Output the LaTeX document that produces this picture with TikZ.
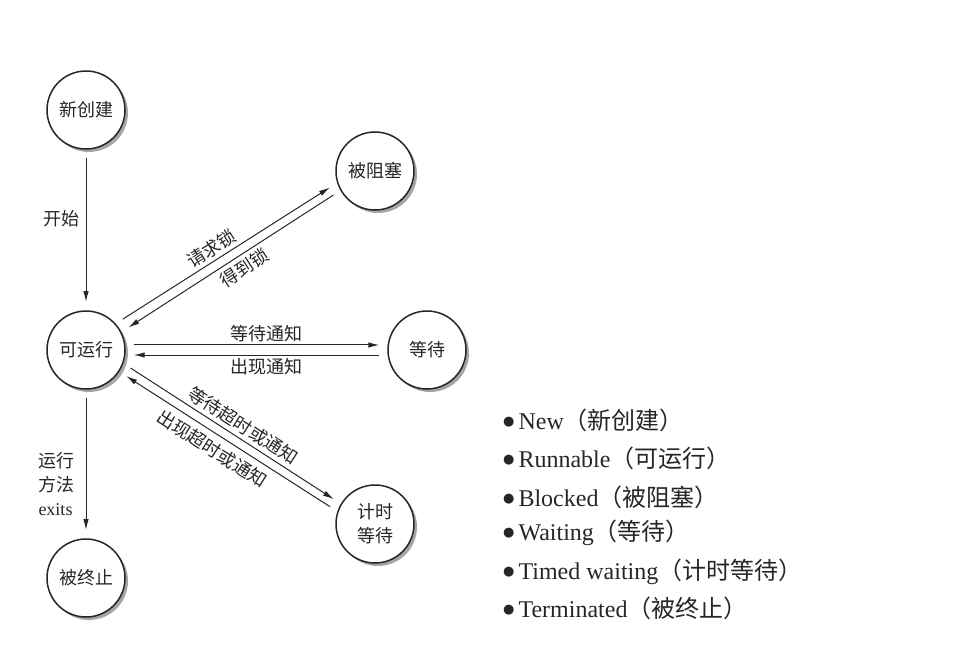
\documentclass[tikz,border=0pt]{standalone}
\usepackage{fontspec}
\setmainfont{Liberation Serif}
\newfontfamily\cjk{Noto Sans CJK SC}
\newfontfamily\symfont{DejaVu Sans}
\usetikzlibrary{arrows.meta,shadows}
\newcommand{\zhtxt}[1]{{\cjk #1}}
\newcommand{\lgdot}{\raisebox{4pt}{\symfont\fontsize{13}{13}\selectfont ●}\hspace{4pt}}

\begin{document}
\begin{tikzpicture}[x=1pt, y=-1pt,
    state/.style={circle, draw=black!85, line width=1.5pt, fill=white, minimum size=78pt, inner sep=0pt, outer sep=9pt,
        font=\fontsize{18}{24}\selectfont\cjk, text=black!85, align=center,
        drop shadow={shadow xshift=3pt, shadow yshift=-3pt, fill=black!70, opacity=0.5}},
    trans/.style={line width=1pt, draw=black!85, -{Latex[length=11pt,width=5.5pt]}},
    lbl/.style={font=\fontsize{18}{24}\selectfont\cjk, text=black!85, inner sep=3pt},
    legend/.style={anchor=west, font=\fontsize{24}{28}\selectfont, text=black!85, inner sep=0pt}]
    %%%%% START %%%%%
    
    \useasboundingbox (0, 0) rectangle (963, 656);
    
    % states
    \node[state] (new) at (86, 110) {新创建};
    \node[state] (run) at (86, 350) {可运行};
    \node[state] (term) at (86, 578) {被终止};
    \node[state] (blk) at (375, 171) {被阻塞};
    \node[state] (wait) at (427, 350) {等待};
    \node[state] (tim) at (375, 524) {计时\\等待};
    
    % transitions
    \draw[trans] (new) -- node[lbl, left, pos=0.42, inner sep=6pt] (lstart) {开始} (run);
    
    \draw[trans] (run.40) -- node[lbl, above, sloped, pos=0.46] (lreq) {请求锁} (blk.200);
    \draw[trans] (blk.210) -- node[lbl, below, sloped, pos=0.47, inner sep=4pt] (lget) {得到锁} (run.28);
    
    \draw[trans] (run.6) -- node[lbl, above, pos=0.54] (lwait) {等待通知} (wait.174);
    \draw[trans] (wait.186) -- node[lbl, below, pos=0.46] (lnotify) {出现通知} (run.-6);
    
    \draw[trans] (run.-22) -- node[lbl, above, sloped, pos=0.52, inner sep=4pt] (ltwait) {等待超时或通知} (tim.149);
    \draw[trans] (tim.159) -- node[lbl, below, sloped, pos=0.54, inner sep=6pt] (ltnotify) {出现超时或通知} (run.-33);
    
    \draw[trans] (run) -- node[lbl, left, pos=0.65, align=left, inner sep=11pt] (lexit) {运行\\方法\\{\rmfamily exits}} (term);
    
    % legend
    \node[legend] (lgnew) at (503, 420) {\lgdot New\zhtxt{（新创建）}};
    \node[legend] (lgrun) at (503, 458) {\lgdot Runnable\zhtxt{（可运行）}};
    \node[legend] (lgblk) at (503, 497) {\lgdot Blocked\zhtxt{（被阻塞）}};
    \node[legend] (lgwait) at (503, 533) {\lgdot Waiting\zhtxt{（等待）}};
    \node[legend] (lgtim) at (503, 572) {\lgdot Timed waiting\zhtxt{（计时等待）}};
    \node[legend] (lgterm) at (503, 608) {\lgdot Terminated\zhtxt{（被终止）}};
    
    %%%%% END %%%%%
\end{tikzpicture}
\end{document}
